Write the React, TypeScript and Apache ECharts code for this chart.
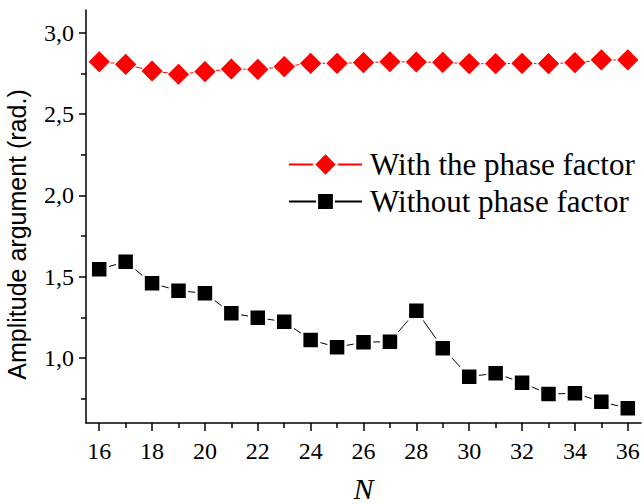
import React, { useEffect, useRef } from "react";
import * as echarts from "echarts";

const nValues = [16, 17, 18, 19, 20, 21, 22, 23, 24, 25, 26, 27, 28, 29, 30, 31, 32, 33, 34, 35, 36];
const withPhase = [2.822, 2.806, 2.765, 2.745, 2.761, 2.777, 2.775, 2.792, 2.812, 2.812, 2.816, 2.822, 2.82, 2.818, 2.81, 2.81, 2.812, 2.81, 2.816, 2.833, 2.833];
const withoutPhase = [1.545, 1.592, 1.459, 1.414, 1.398, 1.275, 1.248, 1.223, 1.111, 1.066, 1.097, 1.1, 1.291, 1.06, 0.885, 0.906, 0.848, 0.778, 0.783, 0.731, 0.69];
const xMajorTicks = [16, 18, 20, 22, 24, 26, 28, 30, 32, 34, 36];
const xMinorTicks = [17, 19, 21, 23, 25, 27, 29, 31, 33, 35];
const yMajorTicks = [1.0, 1.5, 2.0, 2.5, 3.0];
const yMinorTicks = [0.75, 1.25, 1.75, 2.25, 2.75];
const seriesNames = ["With the phase factor", "Without phase factor"];

const SERIF = "'Liberation Serif', 'Times New Roman', serif";
const SANS = "'Liberation Sans', Arial, sans-serif";

export default function App() {
  const ref = useRef<HTMLDivElement>(null);
  useEffect(() => {
    if (!ref.current) return;
    const chart = echarts.init(ref.current, null, { renderer: "svg" });
    const axisLine = { show: true, lineStyle: { color: "#000", width: 1.5 } };
    chart.setOption({
      animation: false,
      backgroundColor: "#fff",
      grid: { left: 86, right: 3, top: 10, bottom: 81, containLabel: false, outerBoundsMode: "none" },
      xAxis: [
        {
          type: "value",
          min: 15.5,
          max: 36.5,
          position: "bottom",
          axisLine,
          splitLine: { show: false },
          axisTick: { show: true, length: 8, customValues: xMajorTicks, lineStyle: { color: "#000", width: 1.5 } },
          axisLabel: {
            customValues: xMajorTicks,
            color: "#000",
            fontFamily: SERIF,
            fontSize: 24,
            margin: 16,
          },
          name: "N",
          nameLocation: "middle",
          nameGap: 50,
          nameTextStyle: { fontFamily: SERIF, fontStyle: "italic", fontSize: 30, color: "#000" },
        },
        {
          type: "value",
          min: 15.5,
          max: 36.5,
          position: "bottom",
          axisLine: { show: false },
          splitLine: { show: false },
          axisTick: { show: true, length: 5, customValues: xMinorTicks, lineStyle: { color: "#000", width: 1.5 } },
          axisLabel: { show: false },
        },
      ],
      yAxis: [
        {
          type: "value",
          min: 0.6,
          max: 3.14,
          position: "left",
          axisLine,
          splitLine: { show: false },
          axisTick: { show: true, length: 7, customValues: yMajorTicks, lineStyle: { color: "#000", width: 1.5 } },
          axisLabel: {
            customValues: yMajorTicks,
            color: "#000",
            fontFamily: SERIF,
            fontSize: 24,
            margin: 12,
            formatter: (v: number) => v.toFixed(1).replace(".", ","),
          },
          name: "Amplitude argument (rad.)",
          nameLocation: "middle",
          nameGap: 57,
          nameTextStyle: { fontFamily: SANS, fontSize: 25, color: "#000", padding: [0, 36, 0, 0] },
        },
        {
          type: "value",
          min: 0.6,
          max: 3.14,
          position: "left",
          axisLine: { show: false },
          splitLine: { show: false },
          axisTick: { show: true, length: 5, customValues: yMinorTicks, lineStyle: { color: "#000", width: 1.5 } },
          axisLabel: { show: false },
        },
      ],
      legend: [
        {
          data: [seriesNames[0]],
          left: 283,
          top: 144,
          orient: "vertical",
          itemWidth: 73,
          itemHeight: 29,
          textStyle: { fontFamily: SERIF, fontSize: 31, color: "#000", padding: [0, 0, 0, 3] },
        },
        {
          data: [seriesNames[1]],
          left: 283,
          top: 181,
          orient: "vertical",
          itemWidth: 73,
          itemHeight: 21,
          textStyle: { fontFamily: SERIF, fontSize: 31, color: "#000", padding: [0, 0, 0, 3] },
        },
      ],
      series: [
        {
          name: seriesNames[0],
          type: "line",
          xAxisIndex: 0,
          yAxisIndex: 0,
          data: nValues.map((n, i) => [n, withPhase[i]]),
          symbol: "diamond",
          symbolSize: 23,
          lineStyle: { color: "#ff0000", width: 1 },
          itemStyle: { color: "#ff0000", borderColor: "#fff", borderWidth: 1.2 },
        },
        {
          name: seriesNames[1],
          type: "line",
          xAxisIndex: 0,
          yAxisIndex: 0,
          data: nValues.map((n, i) => [n, withoutPhase[i]]),
          symbol: "rect",
          symbolSize: 17,
          lineStyle: { color: "#000", width: 1 },
          itemStyle: { color: "#000", borderColor: "#fff", borderWidth: 2.5 },
        },
      ],
    });
    return () => chart.dispose();
  }, []);
  return <div ref={ref} style={{ position: "fixed", left: 0, top: 0, width: 644, height: 504 }} />;
}
